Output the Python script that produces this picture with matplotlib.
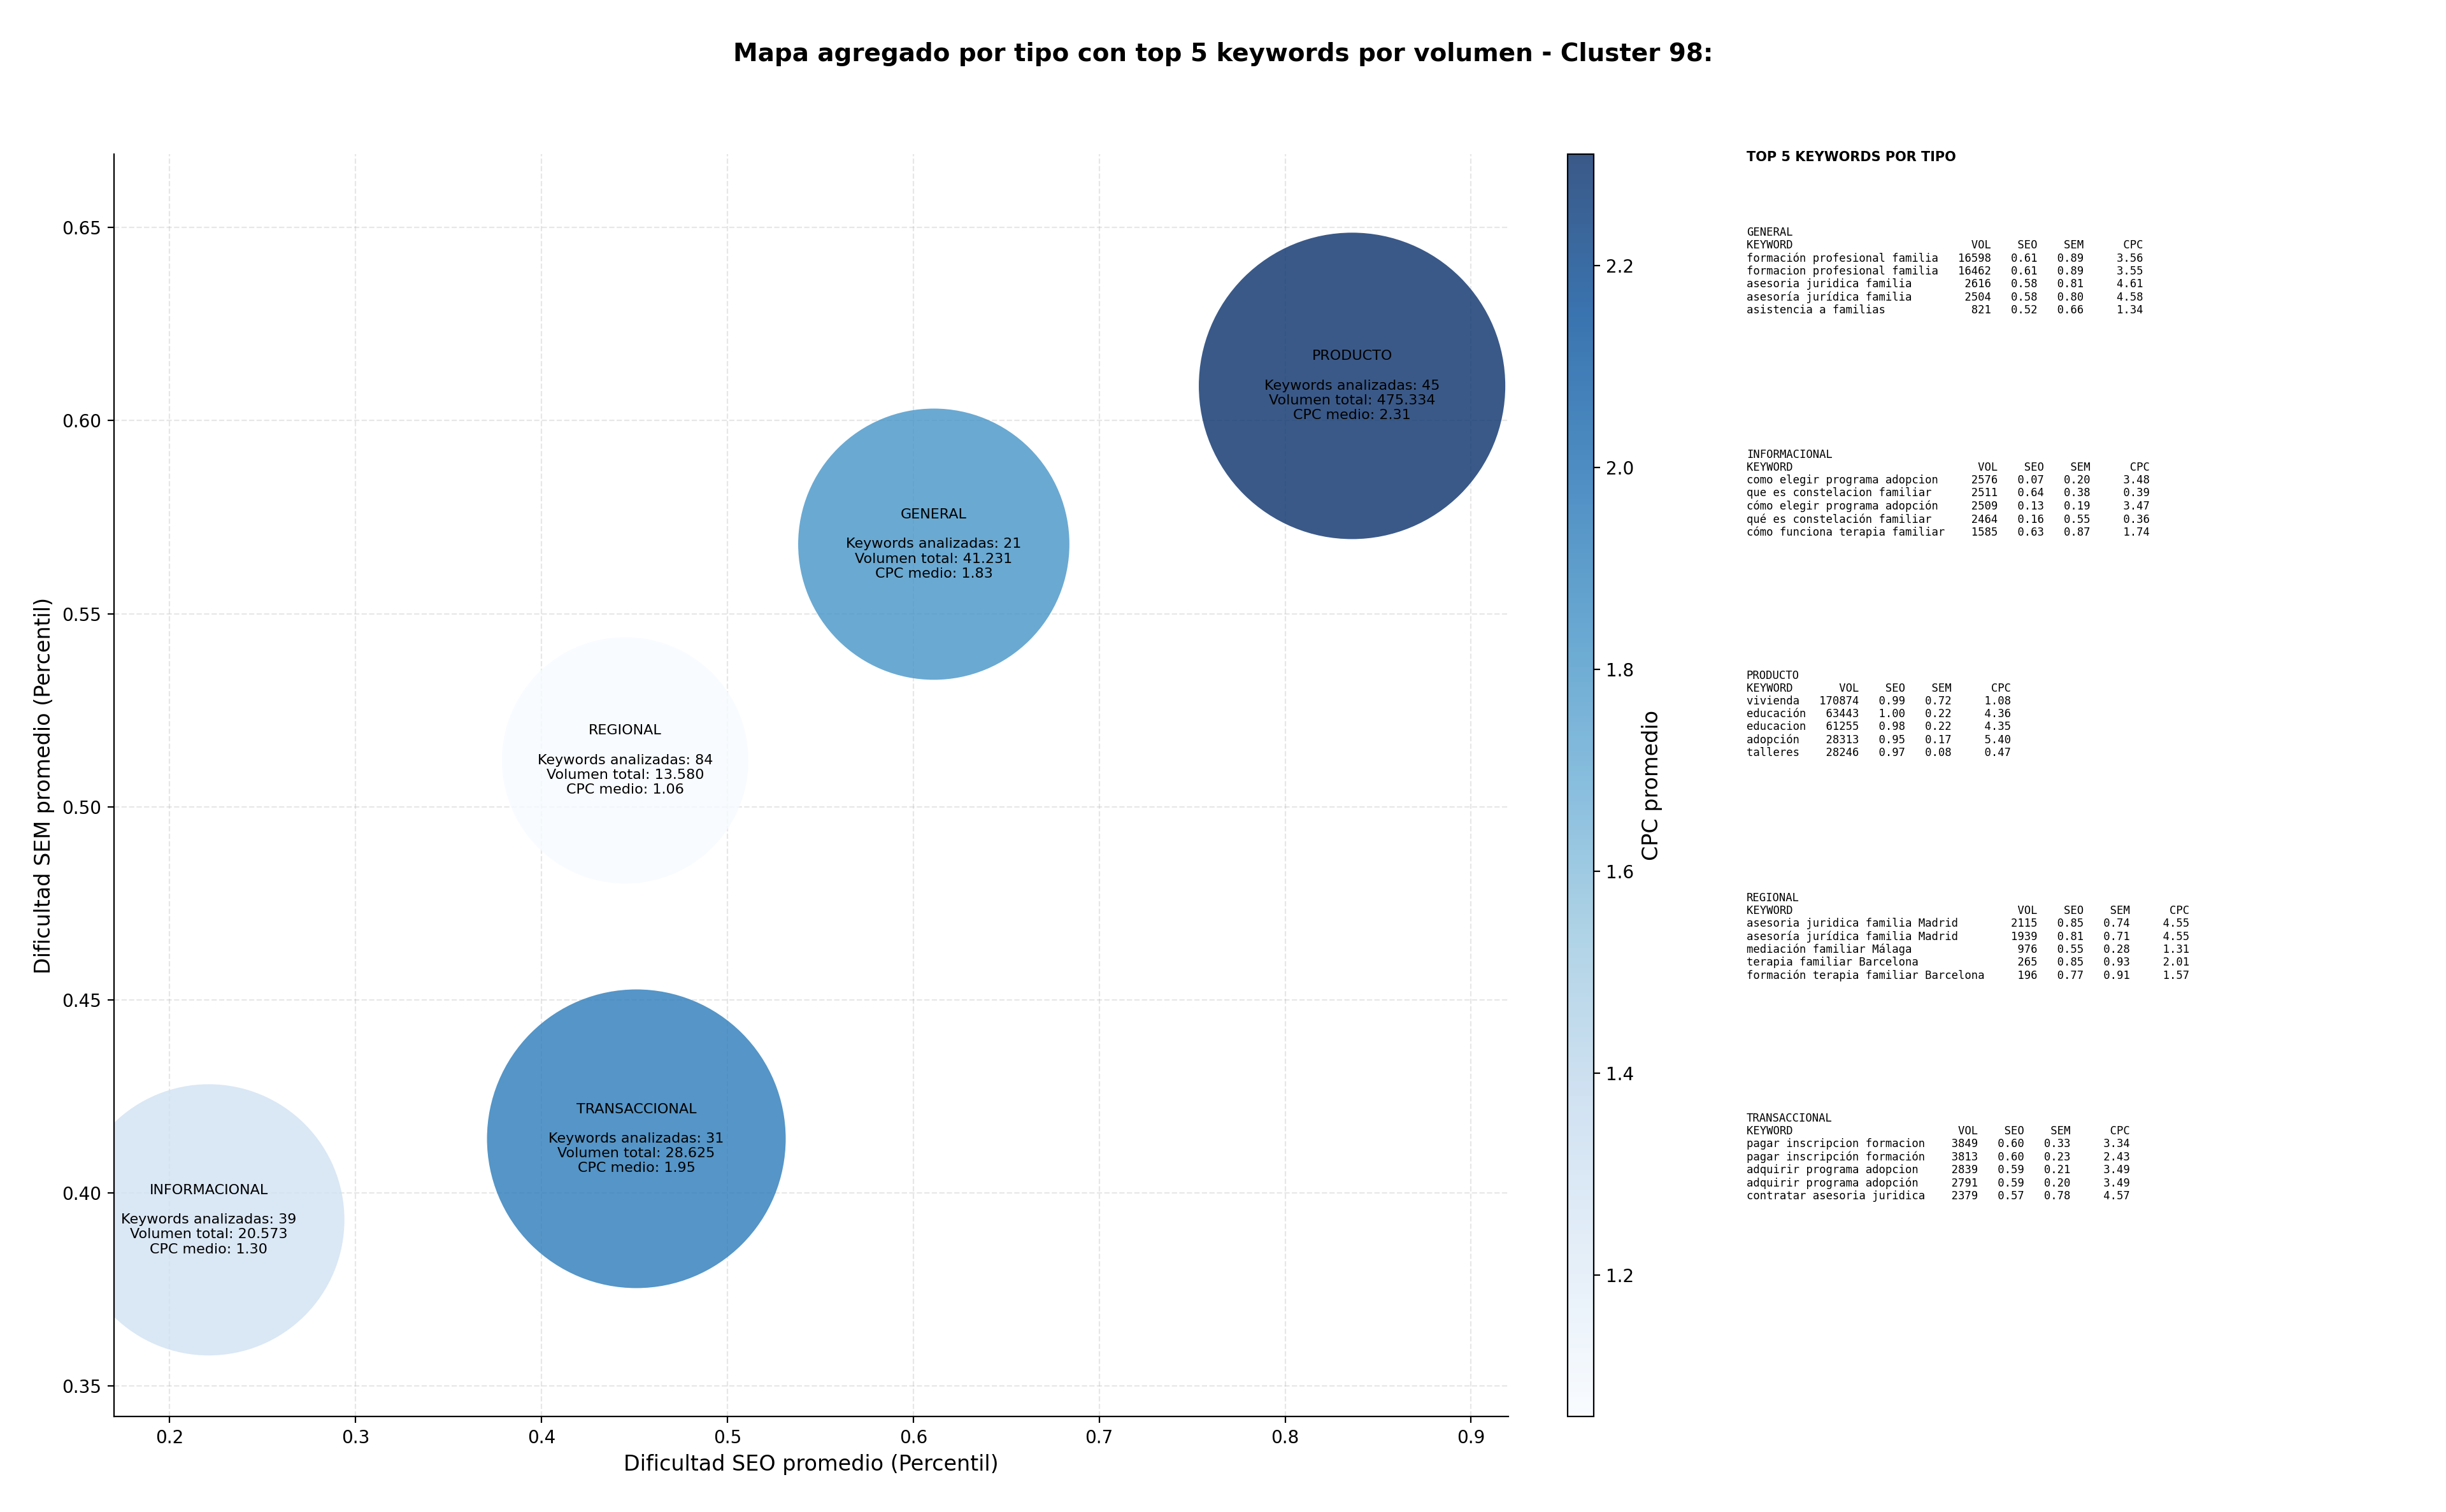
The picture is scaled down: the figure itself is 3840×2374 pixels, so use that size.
import matplotlib
matplotlib.use("Agg")
import matplotlib.pyplot as plt
from matplotlib.colors import Normalize

# Aggregated data per type
tipos = ["INFORMACIONAL", "TRANSACCIONAL", "REGIONAL", "GENERAL", "PRODUCTO"]
seo_medio = [0.221, 0.451, 0.445, 0.611, 0.836]
sem_medio = [0.393, 0.414, 0.512, 0.568, 0.609]
n_keywords = [39, 31, 84, 21, 45]
volumen = ["20.573", "28.625", "13.580", "41.231", "475.334"]
cpc_medio = [1.30, 1.95, 1.06, 1.83, 2.31]
bubble_size = [23500, 28500, 19400, 23500, 30000]

# Top 5 keywords per type: (keyword, vol, seo, sem, cpc)
top_general = [
    ("formación profesional familia", 16598, 0.61, 0.89, 3.56),
    ("formacion profesional familia", 16462, 0.61, 0.89, 3.55),
    ("asesoria juridica familia", 2616, 0.58, 0.81, 4.61),
    ("asesoría jurídica familia", 2504, 0.58, 0.80, 4.58),
    ("asistencia a familias", 821, 0.52, 0.66, 1.34),
]
top_informacional = [
    ("como elegir programa adopcion", 2576, 0.07, 0.20, 3.48),
    ("que es constelacion familiar", 2511, 0.64, 0.38, 0.39),
    ("cómo elegir programa adopción", 2509, 0.13, 0.19, 3.47),
    ("qué es constelación familiar", 2464, 0.16, 0.55, 0.36),
    ("cómo funciona terapia familiar", 1585, 0.63, 0.87, 1.74),
]
top_producto = [
    ("vivienda", 170874, 0.99, 0.72, 1.08),
    ("educación", 63443, 1.00, 0.22, 4.36),
    ("educacion", 61255, 0.98, 0.22, 4.35),
    ("adopción", 28313, 0.95, 0.17, 5.40),
    ("talleres", 28246, 0.97, 0.08, 0.47),
]
top_regional = [
    ("asesoria juridica familia Madrid", 2115, 0.85, 0.74, 4.55),
    ("asesoría jurídica familia Madrid", 1939, 0.81, 0.71, 4.55),
    ("mediación familiar Málaga", 976, 0.55, 0.28, 1.31),
    ("terapia familiar Barcelona", 265, 0.85, 0.93, 2.01),
    ("formación terapia familiar Barcelona", 196, 0.77, 0.91, 1.57),
]
top_transaccional = [
    ("pagar inscripcion formacion", 3849, 0.60, 0.33, 3.34),
    ("pagar inscripción formación", 3813, 0.60, 0.23, 2.43),
    ("adquirir programa adopcion", 2839, 0.59, 0.21, 3.49),
    ("adquirir programa adopción", 2791, 0.59, 0.20, 3.49),
    ("contratar asesoria juridica", 2379, 0.57, 0.78, 4.57),
]
secciones = [("GENERAL", top_general), ("INFORMACIONAL", top_informacional),
             ("PRODUCTO", top_producto), ("REGIONAL", top_regional),
             ("TRANSACCIONAL", top_transaccional)]

fig = plt.figure(figsize=(19.2, 11.87), dpi=200)
ax = fig.add_axes([0.0466, 0.063, 0.570, 0.835])
cax = fig.add_axes([0.641, 0.063, 0.0105, 0.835])

norm = Normalize(vmin=min(cpc_medio), vmax=max(cpc_medio))
sc = ax.scatter(seo_medio, sem_medio, s=bubble_size, c=cpc_medio, cmap="Blues",
                norm=norm, alpha=0.8, edgecolors="none", zorder=2)

for t, x, y, n, v, c in zip(tipos, seo_medio, sem_medio, n_keywords, volumen, cpc_medio):
    ax.text(x, y, f"{t}\n\nKeywords analizadas: {n}\nVolumen total: {v}\nCPC medio: {c:.2f}",
            ha="center", va="center", fontsize=8, zorder=3)

ax.set_xlim(0.17, 0.92)
ax.set_ylim(0.342, 0.669)
ax.grid(True, linestyle="--", alpha=0.3, zorder=0)
ax.spines["top"].set_visible(False)
ax.spines["right"].set_visible(False)
ax.set_xlabel("Dificultad SEO promedio (Percentil)", fontsize=12)
ax.set_ylabel("Dificultad SEM promedio (Percentil)", fontsize=12)

cb = fig.colorbar(sc, cax=cax)
cb.set_label("CPC promedio", fontsize=12)

fig.suptitle("Mapa agregado por tipo con top 5 keywords por volumen - Cluster 98:",
             fontsize=14, fontweight="bold", y=0.972)

fig.text(0.714, 0.9, "TOP 5 KEYWORDS POR TIPO", fontsize=7.5, fontweight="bold", va="top")
y_pos = [0.85, 0.703, 0.557, 0.41, 0.264]
for (nombre, filas), yy in zip(secciones, y_pos):
    w = max(len(r[0]) for r in filas)
    lines = [nombre, "KEYWORD".ljust(w) + f"{'VOL':>8}{'SEO':>7}{'SEM':>7}{'CPC':>9}"]
    for kw, vol, seo, sem, cpc in filas:
        lines.append(f"{kw:<{w}}{vol:>8}{seo:>7.2f}{sem:>7.2f}{cpc:>9.2f}")
    fig.text(0.714, yy, "\n".join(lines), family="DejaVu Sans Mono", fontsize=6.2,
             va="top", linespacing=1.15)

fig.savefig("out.png", dpi=200)
